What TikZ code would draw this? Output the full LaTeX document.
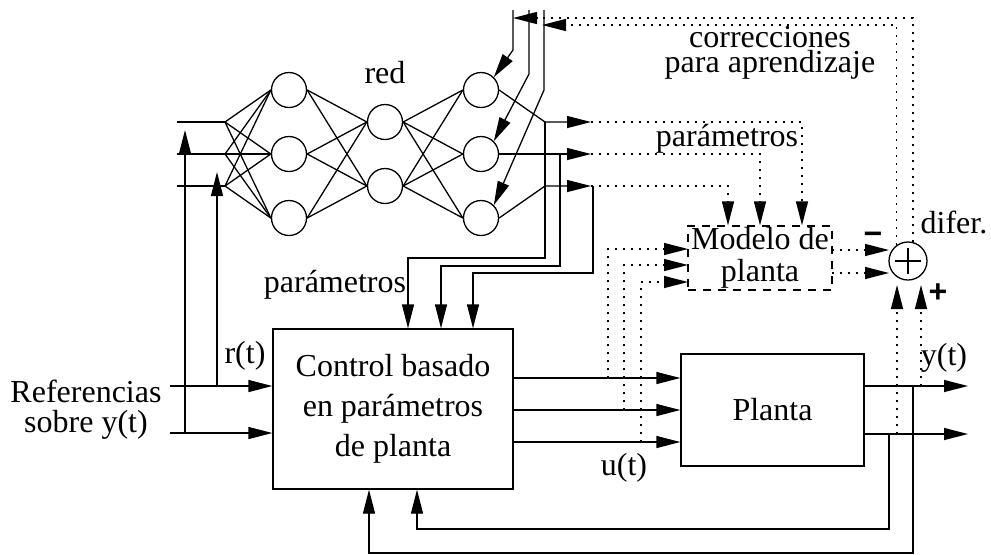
\documentclass[tikz,border=0pt]{standalone}
\usepackage{fontspec}
\setmainfont{Liberation Serif}
\newfontfamily\signfont{Liberation Sans}
\usetikzlibrary{arrows.meta}
\begin{document}
\begin{tikzpicture}[x=0.5pt,y=-0.5pt,line width=0.65pt,
  tip/.style={-{Triangle[length=12pt,width=6pt]}},
  dots/.style={dash pattern=on 1pt off 3pt},
  neuron/.style={circle,draw,minimum size=17.5pt,inner sep=0pt},
  blk/.style={draw,align=center,inner sep=0pt},
  lbl/.style={inner sep=0pt,anchor=base},
  sign/.style={inner sep=0pt,anchor=base,font=\signfont\bfseries\fontsize{16}{16}\selectfont},
  font=\fontsize{16}{20}\selectfont]
\useasboundingbox (0,0) rectangle (991,554);

% neural network
\node[neuron] (a1) at (289,90) {};
\node[neuron] (a2) at (289,154) {};
\node[neuron] (a3) at (289,218) {};
\node[neuron] (b1) at (385,122) {};
\node[neuron] (b2) at (385,186) {};
\node[neuron] (c1) at (481,90) {};
\node[neuron] (c2) at (481,154) {};
\node[neuron] (c3) at (481,218) {};
\foreach \k/\y in {1/122,2/154,3/186}{
  \coordinate (i\k) at (177,\y);
  \coordinate (f\k) at (225,\y);
  \draw (i\k) -- (f\k);
  \foreach \j in {1,2,3} \draw (f\k) -- (a\j.west);
}
\foreach \i in {1,2,3} \foreach \j in {1,2} \draw (a\i.east) -- (b\j.west);
\foreach \i in {1,2} \foreach \j in {1,2,3} \draw (b\i.east) -- (c\j.west);

% outputs of the net
\coordinate (o1) at (545,122);
\coordinate (o2) at (560,154);
\coordinate (o3) at (545,186);
\coordinate (p1) at (591,122);
\coordinate (p2) at (591,154);
\coordinate (p3) at (591,186);
\coordinate (o3b) at (593,186);
\draw[tip] (c1.east) -- (o1) -- (p1);
\draw[tip] (c2.east) -- (p2);
\draw[tip] (c3.east) -- (o3) -- (p3);

% boxes
\node[blk,minimum width=120pt,minimum height=80pt] (ctrl) at (393,409) {Control basado\\en parámetros\\de planta};
\node[blk,dash pattern=on 4pt off 3.5pt,minimum width=72pt,minimum height=32pt,font=\fontsize{16}{16}\selectfont] (mod) at (760,258) {Modelo de\\planta};
\node[blk,minimum width=91.5pt,minimum height=56pt] (pl) at (772.5,410) {Planta};
\node[circle,draw,minimum size=19pt,inner sep=0pt] (sum) at (908,261) {};
\draw (sum.center) +(-13,0) -- +(13,0);
\draw (sum.center) +(0,-13) -- +(0,13);

% parameters to control
\coordinate (k1) at (408,258);
\coordinate (k2) at (441,266);
\coordinate (k3) at (473,273);
\draw[tip] (o1) |- (k1) -- (k1 |- ctrl.north);
\draw[tip] (o2) |- (k2) -- (k2 |- ctrl.north);
\draw (p3) -- (o3b);
\draw[tip] (o3b) |- (k3) -- (k3 |- ctrl.north);

% parameters to model (dotted)
\coordinate (m1) at (802,122);
\coordinate (m2) at (760,154);
\coordinate (m3) at (728,186);
\draw[dots,tip] (p1) -- (m1) -- (m1 |- mod.north);
\draw[dots,tip] (p2) -- (m2) -- (m2 |- mod.north);
\draw[dots,tip] (p3) -- (m3) -- (m3 |- mod.north);

% learning corrections
\coordinate (t1) at (513,10);
\coordinate (t1b) at (513,50);
\coordinate (t2) at (529,10);
\coordinate (t2b) at (529,74);
\coordinate (t3) at (544,10);
\coordinate (t3b) at (544,90);
\draw[tip] (t1) -- (t1b) -- (c1.north east);
\draw[tip] (t2) -- (t2b) -- (c2.north east);
\draw[tip] (t3) -- (t3b) -- (c3.north east);
\coordinate (h1) at (513,18);
\coordinate (h2) at (542,25);
\draw[dots,tip] (sum.75) |- (h1);
\draw[dots,tip] (sum.125) |- (h2);

% control to plant
\foreach \k/\y in {1/378,2/410,3/442}{
  \coordinate (e\k) at (513,\y);
  \draw[tip] (e\k) -- (e\k -| pl.west);
}
\coordinate (d1) at (608,378);
\coordinate (d2) at (624,410);
\coordinate (d3) at (641,442);
\coordinate (g1) at (688,249);
\coordinate (g2) at (688,265);
\coordinate (g3) at (688,282);
\draw[dots,tip] (d1) |- (g1);
\draw[dots,tip] (d2) |- (g2);
\draw[dots,tip] (d3) |- (g3);

% model to sum
\coordinate (s1a) at (832,250);
\coordinate (s1b) at (889,250);
\coordinate (s2a) at (832,273);
\coordinate (s2b) at (889,273);
\draw[dots,tip] (s1a) -- (s1b);
\draw[dots,tip] (s2a) -- (s2b);

% plant outputs
\coordinate (po1) at (864,386);
\coordinate (po2) at (864,434);
\coordinate (y1) at (968,386);
\coordinate (y2) at (968,434);
\draw[tip] (po1) -- (y1);
\draw[tip] (po2) -- (y2);
\coordinate (fb1) at (913,386);
\coordinate (fb1c) at (369,553);
\coordinate (fb2) at (889,434);
\coordinate (fb2c) at (417,529);
\draw[tip] (fb1) |- (fb1c) -- (fb1c |- ctrl.south);
\draw[tip] (fb2) |- (fb2c) -- (fb2c |- ctrl.south);
\coordinate (v1) at (921,386);
\coordinate (v1t) at (921,285);
\coordinate (v2) at (897,434);
\coordinate (v2t) at (897,285);
\draw[dots,tip] (v1) -- (v1t);
\draw[dots,tip] (v2) -- (v2t);

% references
\coordinate (r1) at (170,386);
\coordinate (r2) at (170,433);
\draw[tip] (r1) -- (r1 -| ctrl.west);
\draw[tip] (r2) -- (r2 -| ctrl.west);
\coordinate (rv1) at (217,386);
\coordinate (rv1t) at (217,172);
\coordinate (rv2) at (185,433);
\coordinate (rv2t) at (185,130);
\draw[tip] (rv1) -- (rv1t);
\draw[tip] (rv2) -- (rv2t);

% labels
\node[lbl] (lred) at (385,83) {red};
\node[lbl,align=center,font=\fontsize{16}{10.8}\selectfont] (lcor) at (770,72) {correcciones\\para aprendizaje};
\node[lbl] (lpar1) at (727,146) {parámetros};
\node[lbl,anchor=base west] (ldif) at (920,233) {difer.};
\node[lbl] (lpar2) at (335,292) {parámetros};
\node[lbl] (lr) at (245,363) {r(t)};
\node[lbl] (lu) at (624,475) {u(t)};
\node[lbl] (ly) at (944,365) {y(t)};
\node[lbl,align=center,font=\fontsize{16}{15}\selectfont] (lref) at (86,432) {Referencias\\sobre y(t)};
\node[sign] (lminus) at (873,244) {−};
\node[sign] (lplus) at (938,302) {+};
\end{tikzpicture}
\end{document}
